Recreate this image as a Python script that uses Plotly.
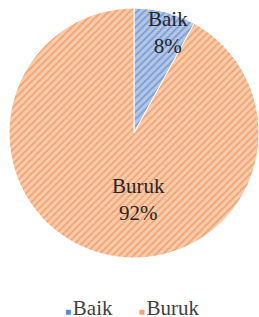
import math
import plotly.graph_objects as go

labels = ["Baik", "Buruk"]
values = [8, 92]
fill_colors = ["#b4c7e7", "#f8cbad"]
line_colors = ["#4472c4", "#ed7d31"]
legend_colors = ["#5b87cf", "#f4a073"]

W, H = 259, 317
cx, cy, r = 134, 133, 125
FONT = "'Liberation Serif', 'Times New Roman', 'DejaVu Serif', serif"

fig = go.Figure(go.Pie(
    labels=labels,
    values=values,
    sort=False,
    direction="clockwise",
    rotation=0,
    textinfo="none",
    marker=dict(
        colors=fill_colors,
        pattern=dict(shape="/", fgcolor=line_colors, bgcolor=fill_colors, size=5, solidity=0.35, fillmode="overlay"),
        line=dict(color="white", width=1),
    ),
    domain=dict(x=[(cx - r) / W, min(1, (cx + r) / W)], y=[1 - (cy + r) / H, 1 - (cy - r) / H]),
    hoverinfo="label+percent",
    showlegend=False,
))

# data labels placed at each slice's mid-angle (computed from the values)
label_radius = [0.83, 0.55]   # fraction of pie radius
label_xshift = [8, 22]        # best-fit style nudge, px
total = sum(values)
cum = 0
for i, (lab, v) in enumerate(zip(labels, values)):
    theta = 2 * math.pi * (cum + v / 2) / total
    cum += v
    px = cx + label_radius[i] * r * math.sin(theta)
    py = cy - label_radius[i] * r * math.cos(theta)
    fig.add_annotation(
        text=f"{lab}<br>{round(100 * v / total)}%",
        x=px / W, y=1 - py / H, xref="paper", yref="paper",
        xanchor="center", yanchor="middle", showarrow=False, xshift=label_xshift[i],
        font=dict(family=FONT, size=21, color="#262626"),
    )

legend_text = "&nbsp;&nbsp;&nbsp;&nbsp;&nbsp;".join(
    f"<span style='color:{c};font-size:10px'>■</span>&#8202;{lab}" for lab, c in zip(labels, legend_colors)
)
fig.add_annotation(
    text=legend_text, x=132 / W, y=1 - 308 / H, xref="paper", yref="paper",
    xanchor="center", yanchor="middle", showarrow=False,
    font=dict(family=FONT, size=21, color="#404040"),
)

fig.update_layout(
    width=W, height=H,
    margin=dict(l=0, r=0, t=0, b=0),
    paper_bgcolor="white",
    font=dict(family=FONT),
)

fig.write_html("out.html", config={"displayModeBar": False},
               post_script="document.body.style.margin='0';")
